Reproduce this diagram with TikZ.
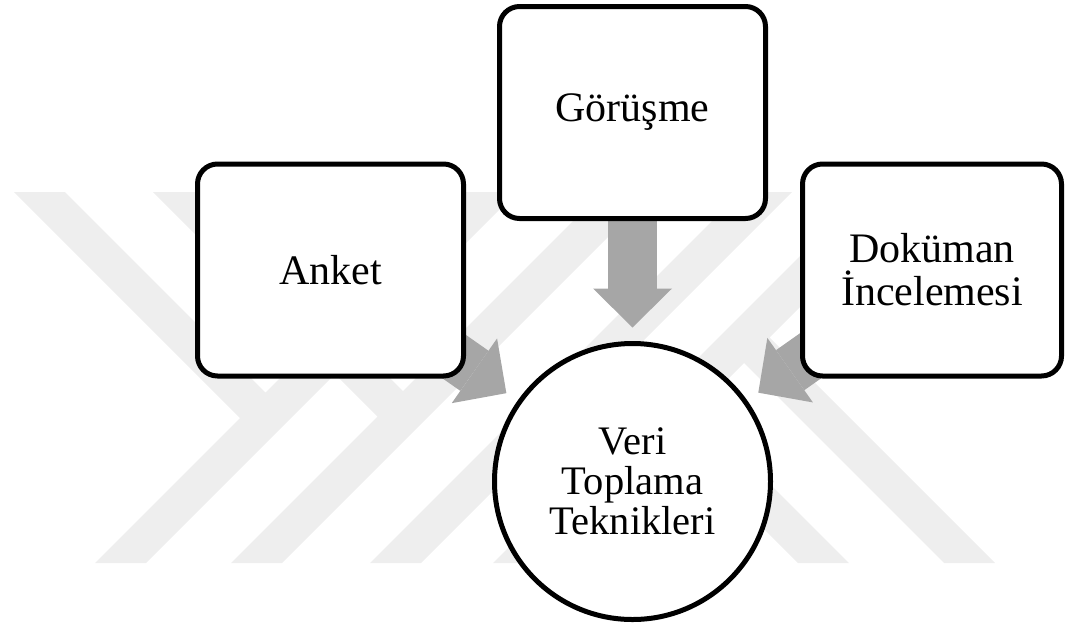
\documentclass[tikz,border=0pt]{standalone}
\usepackage{fontspec}
\setmainfont{Liberation Serif}
\usetikzlibrary{arrows.meta,calc}
\definecolor{flowgray}{RGB}{166,166,166}
\definecolor{markgray}{RGB}{238,238,238}
\pgfdeclarelayer{mark}
\pgfdeclarelayer{back}
\pgfsetlayers{mark,back,main}

\begin{document}
\begin{tikzpicture}[x=1pt,y=-1pt,
  box/.style={draw,line width=5pt,rounded corners=20pt,fill=white,minimum width=266pt,minimum height=212pt,
    inner sep=0pt,align=center,font=\fontsize{42}{43}\selectfont},
  hub/.style={draw,circle,line width=5pt,fill=white,minimum size=276pt,inner sep=0pt,align=center,
    font=\fontsize{40.5}{40}\selectfont},
  flow/.style={draw=flowgray,line width=49pt,-{Triangle[width=79pt,length=39pt,line width'=0pt]}},
  band/.style={fill=markgray}]
  \useasboundingbox (0,0) rectangle (1065,630);
  % three sources and the hub
  \node[box] (gorusme) at (632.5,112.5) {Görüşme};
  \node[box] (anket) at (330.5,270) {Anket};
  \node[box,minimum width=259pt] (dokuman) at (932,270) {Doküman\\İncelemesi};
  \node[hub] (veri) at (632.5,481.5) {Veri\\Toplama\\Teknikleri};
  % arrow tips stop just outside the circle
  \coordinate (tipA) at ($(veri.center)!154pt!(anket.center)$);
  \coordinate (tipG) at ($(veri.center)!154pt!(gorusme.center)$);
  \coordinate (tipD) at ($(veri.center)!154pt!(dokuman.center)$);
  \begin{pgfonlayer}{back}
    \draw[flow] (anket.center) -- (tipA);
    \draw[flow] (gorusme.center) -- (tipG);
    \draw[flow] (dokuman.center) -- (tipD);
  \end{pgfonlayer}
  % faint watermark bands
  \begin{pgfonlayer}{mark}
    \fill[band] (14,192)--(65,192)--(265.5,392.5)--(466,192)--(517,192)--(146,563)--(95,563)--(240,418)--cycle;
    \fill[band] (153,192)--(204,192)--(403,391)--(602,192)--(653,192)--(282,563)--(231,563)--(377.5,416.5)--cycle;
    \fill[band] (370,563)--(741,192)--(792,192)--(635,349)--(849,563)--(798,563)--(609.5,374.5)--(421,563)--cycle;
    \fill[band] (493,563)--(864,192)--(915,192)--(769.5,337.5)--(995,563)--(944,563)--(744,363)--(544,563)--cycle;
  \end{pgfonlayer}
\end{tikzpicture}
\end{document}
